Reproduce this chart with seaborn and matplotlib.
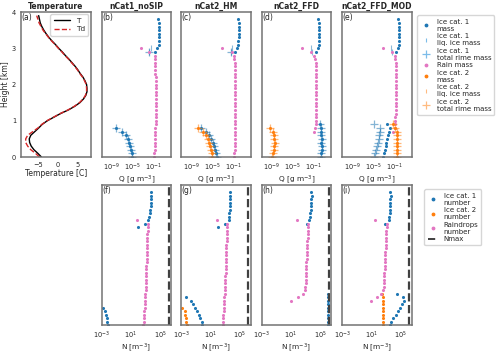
"""Vertical profiles of temperature, hydrometeor mass and number for four SIP set-ups."""

import matplotlib

matplotlib.use("Agg")

import matplotlib.pyplot as plt
import seaborn as sns
from matplotlib.lines import Line2D
from matplotlib.ticker import NullLocator

# ---------------------------------------------------------------- data
# temperature profile (panel a)
T_HEIGHT = [0.0, 0.1, 0.2, 0.3, 0.4, 0.5, 0.6, 0.7, 0.8, 0.9,
            1.0, 1.1, 1.2, 1.3, 1.4, 1.5, 1.6, 1.7, 1.8, 1.9,
            2.0, 2.1, 2.2, 2.3, 2.4, 2.5, 2.6, 2.7, 2.8, 2.9,
            3.0, 3.1, 3.2, 3.3, 3.4, 3.5, 3.6, 3.7, 3.8, 3.9]
TEMP = [-4.1, -5.0, -6.0, -6.7, -7.1, -7.2, -6.8, -5.8, -4.8, -3.9,
        -2.6, -0.9, 0.8, 2.8, 4.4, 5.7, 6.6, 7.2, 7.5, 7.5,
        7.4, 7.0, 6.5, 5.8, 5.2, 4.5, 3.7, 2.9, 2.0, 1.2,
        0.3, -0.5, -1.4, -2.2, -2.9, -3.5, -4.0, -4.4, -4.6, -4.8]
DEWPOINT = [-4.6, -5.6, -6.8, -7.6, -8.1, -8.1, -7.6, -6.3, -5.0, -4.0,
            -2.7, -1.0, 0.7, 2.7, 4.3, 5.6, 6.5, 7.1, 7.4, 7.4,
            7.3, 6.9, 6.4, 5.7, 5.1, 4.4, 3.6, 2.8, 1.9, 1.1,
            0.2, -0.6, -1.5, -2.3, -3.0, -3.7, -4.2, -4.7, -5.0, -5.3]

# height levels used by the model output
H_LOW6 = [0.0, 0.1, 0.2, 0.3, 0.4, 0.5]
H_LOW9 = [0.0, 0.1, 0.2, 0.3, 0.4, 0.5, 0.6, 0.7, 0.8]
H_LOW10 = [0.0, 0.1, 0.2, 0.3, 0.4, 0.5, 0.6, 0.7, 0.8, 0.9]
H_TOP10 = [2.9, 3.0, 3.1, 3.2, 3.3, 3.4, 3.5, 3.6, 3.7, 3.8]
H_TOP11 = [2.8, 2.9, 3.0, 3.1, 3.2, 3.3, 3.4, 3.5, 3.6, 3.7, 3.8]
H_LIQ = [2.9, 3.0]
H_RAIN = [0.0, 0.1, 0.2, 0.3, 0.4, 0.5, 0.6, 0.7, 0.8, 0.9,
          1.0, 1.1, 1.2, 1.3, 1.4, 1.5, 1.6, 1.7, 1.8, 1.9,
          2.0, 2.1, 2.2, 2.3, 2.4, 2.5, 2.6, 2.7, 2.8, 2.9, 3.0]
H_RAIN_FFD = [0.7, 0.8, 0.9, 1.0, 1.1, 1.2, 1.3, 1.4, 1.5, 1.6, 1.7, 1.8,
              1.9, 2.0, 2.1, 2.2, 2.3, 2.4, 2.5, 2.6, 2.7, 2.8, 2.9, 3.0]

# mass mixing ratios Q [g m-3]
NOSIP_ICE1_MASS = [7.9e-6, 6.3e-6, 4.5e-6, 3.2e-6, 2.0e-6, 1.3e-6, 4.0e-7, 1.0e-7, 6.3e-9,
                   0.15, 0.5, 1.0, 1.1, 1.15, 1.15, 1.1, 1.1, 0.95, 0.7]
NOSIP_ICE1_LIQ = [0.012, 0.03]
NOSIP_ICE1_RIME = [8.2e-6, 6.5e-6, 4.6e-6, 3.1e-6, 2.0e-6, 1.3e-6, 4.2e-7, 1.0e-7, 6.0e-9, 0.012]
NOSIP_RAIN_MASS = [0.12, 0.13, 0.15, 0.16, 0.17, 0.18, 0.19, 0.2, 0.21, 0.22,
                   0.22, 0.23, 0.24, 0.24, 0.25, 0.25, 0.25, 0.24, 0.24, 0.23,
                   0.23, 0.22, 0.22, 0.21, 0.2, 0.2, 0.19, 0.18, 0.16, 0.015, 4e-4]

HM_ICE1_MASS = [7.9e-5, 5.0e-5, 3.2e-5, 1.8e-5, 1.26e-5, 5.6e-6, 2.0e-6, 5.0e-7, 7.9e-8,
                0.2, 0.56, 0.9, 1.0, 1.05, 1.1, 1.1, 1.1, 1.05, 0.9]
HM_ICE1_LIQ = [0.03, 0.05]
HM_ICE1_RIME = [8.0e-5, 5.0e-5, 3.2e-5, 1.8e-5, 1.3e-5, 5.6e-6, 2.0e-6, 5.0e-7, 7.9e-8, 0.03]
HM_ICE2_MASS = [1.0e-5, 7.9e-6, 5.6e-6, 4.0e-6, 2.5e-6, 1.26e-6, 5.0e-7, 1.6e-7, 1.8e-8]
HM_ICE2_RIME = [1.0e-5, 7.9e-6, 5.6e-6, 4.0e-6, 2.5e-6, 1.3e-6, 5.0e-7, 1.6e-7, 1.8e-8]
HM_RAIN_MASS = [0.17, 0.17, 0.18, 0.18, 0.18, 0.19, 0.19, 0.19, 0.2, 0.2,
                0.2, 0.2, 0.2, 0.2, 0.2, 0.2, 0.2, 0.2, 0.2, 0.2,
                0.19, 0.19, 0.19, 0.19, 0.18, 0.18, 0.18, 0.17, 0.14, 0.05, 8e-4]

FFD_ICE1_MASS = [2.8, 3.0, 3.2, 3.2, 3.0, 3.2, 3.0, 3.0, 2.6, 1.4,
                 0.3, 0.55, 0.9, 1.1, 1.1, 1.1, 1.1, 1.1, 1.0, 0.55]
FFD_ICE1_LIQ = [0.04, 0.03]
FFD_ICE1_RIME = [2.8, 3.0, 3.2, 3.2, 3.0, 3.2, 3.0, 3.0, 2.6, 1.4]
FFD_ICE2_MASS = [1.1e-9, 1.6e-9, 2.0e-9, 2.8e-9, 4.0e-9, 2.8e-9, 2.0e-9, 1.6e-9, 5.0e-10]
FFD_ICE2_RIME = [1.1e-9, 1.6e-9, 2.0e-9, 2.8e-9, 4.0e-9, 2.8e-9, 2.0e-9, 1.6e-9, 5.0e-10]
FFD_RAIN_MASS = [0.1, 0.17, 0.22, 0.25, 0.26, 0.27, 0.27, 0.28, 0.28, 0.28, 0.28, 0.28,
                 0.28, 0.27, 0.27, 0.27, 0.26, 0.26, 0.25, 0.24, 0.2, 0.1, 0.03, 7e-4]

MOD_ICE1_MASS = [8.0e-4, 1.1e-3, 1.6e-3, 2.2e-3, 3.2e-3, 4.5e-3, 6.3e-3, 8.9e-3, 1.6e-2, 4.0e-3,
                 0.2, 0.55, 0.8, 0.85, 0.9, 0.9, 0.9, 0.85, 0.8, 0.55]
MOD_ICE1_LIQ = [0.04, 0.02]
MOD_ICE1_RIME = [1.6e-5, 2.5e-5, 3.2e-5, 5.0e-5, 6.3e-5, 1.0e-4, 1.26e-4, 1.8e-4, 2.0e-4, 1.6e-5]
MOD_ICE2_MASS = [0.35, 0.35, 0.36, 0.35, 0.34, 0.35, 0.32, 0.28, 0.13, 0.05]
MOD_ICE2_RIME = [0.35, 0.35, 0.36, 0.35, 0.34, 0.35, 0.32, 0.28, 0.13, 0.05]
MOD_RAIN_MASS = [0.06, 0.12, 0.15, 0.17, 0.17, 0.18, 0.18, 0.18, 0.19, 0.19, 0.19, 0.19,
                 0.19, 0.19, 0.19, 0.18, 0.18, 0.18, 0.18, 0.18, 0.17, 0.15, 0.045, 7e-4]

# number concentrations N [m-3]
NOSIP_ICE1_NUM = [8e-3, 6.3e-3, 5e-3, 4.5e-3, 2.8e-3, 1.6e-3,
                  100, 800, 2500, 3200, 4000, 4500, 5000, 5600, 5600, 6300, 5000]
NOSIP_RAIN_NUM = [500, 560, 600, 630, 700, 750, 800, 850, 900, 950,
                  1000, 1050, 1100, 1150, 1200, 1250, 1300, 1350, 1400, 1450,
                  1500, 1550, 1600, 1700, 1750, 1800, 1850, 1900, 2000, 2200, 80]

HM_ICE1_NUM = [0.8, 0.63, 0.45, 0.32, 0.16, 0.08, 0.05, 0.02, 5e-3,
               100, 900, 3200, 3500, 4000, 4500, 4500, 5000, 5000, 5600, 5000]
HM_ICE2_NUM = [6.3e-3, 5.6e-3, 5e-3, 4e-3, 3.5e-3, 1.6e-3]
HM_RAIN_NUM = [500, 530, 570, 600, 650, 700, 750, 800, 850, 900,
               950, 1000, 1050, 1100, 1150, 1200, 1250, 1300, 1350, 1400,
               1450, 1500, 1550, 1600, 1650, 1700, 1750, 1800, 1800, 2000, 80]

FFD_ICE1_NUM = [1.3e6, 1.3e6, 1.3e6, 1.3e6, 1.3e6, 1.3e6, 1.3e6, 1.3e6, 1.3e6, 1.3e6,
                1400, 3200, 4000, 4500, 5000, 5000, 5600, 6300, 7000, 5600]
FFD_RAIN_NUM = [12, 100, 400, 900, 950, 1000, 1050, 1100, 1150, 1200, 1250, 1300,
                1400, 1450, 1500, 1600, 1700, 1800, 1900, 2000, 2200, 2400, 2500, 80]

MOD_ICE1_NUM = [3200, 5000, 9000, 2.0e4, 4.0e4, 8.0e4, 1.6e5, 2.8e5, 2.2e5, 3.2e4,
                800, 2500, 2800, 3200, 3500, 3500, 4000, 4000, 4500, 4000]
MOD_ICE2_NUM = [450, 450, 450, 450, 450, 450, 450, 450, 450, 320]
MOD_RAIN_NUM = [10, 56, 220, 450, 480, 500, 530, 560, 600, 630, 670, 700,
                750, 800, 850, 900, 950, 1000, 1050, 1100, 1150, 1200, 1250, 35]

NMAX = 1.5e6

TITLES = ["Temperature", "nCat1_noSIP", "nCat2_HM", "nCat2_FFD", "nCat2_FFD_MOD"]
TOP_LABELS = ["(a)", "(b)", "(c)", "(d)", "(e)"]
BOTTOM_LABELS = ["(f)", "(g)", "(h)", "(i)"]

Q_TICKS = [1e-9, 1e-5, 1e-1]
N_TICKS = [1e-3, 1e1, 1e5]

BLUE = "#1f77b4"
ORANGE = "#ff7f0e"
PINK = "#e377c2"
SPINE = "0.45"

MASS_LEGEND = [
    "Ice cat. 1\nmass", "Ice cat. 1\nliq. ice mass", "Ice cat. 1\ntotal rime mass",
    "Rain mass", "Ice cat. 2\nmass", "Ice cat. 2\nliq. ice mass", "Ice cat. 2\ntotal rime mass",
]
NUMBER_LEGEND = ["Ice cat. 1\nnumber", "Ice cat. 2\nnumber", "Raindrops\nnumber", "Nmax"]


# ---------------------------------------------------------------- styles
DOT = dict(marker="o", s=5, linewidth=0)
LIQ = dict(marker="|", s=14, linewidth=0.8, alpha=0.5)
RIME = dict(marker="+", s=32, linewidth=0.9, alpha=0.55)


def px_axes(fig, left, top, width, height):
    """Add axes from pixel coordinates of a 500x354 canvas."""
    return fig.add_axes([left / 500, 1 - (top + height) / 354, width / 500, height / 354])


def style_axes(ax, label):
    for spine in ax.spines.values():
        spine.set_color(SPINE)
        spine.set_linewidth(1.1)
    ax.tick_params(labelsize=4.8, length=2.5, width=0.7, color=SPINE, pad=1)
    ax.set_ylim(0, 4)
    ax.text(0.01, 0.99, label, transform=ax.transAxes, ha="left", va="top", fontsize=5.5)


def profile_axes(ax, ticks, xlim, xlabel, label):
    ax.set_xscale("log")
    ax.set_xlim(*xlim)
    ax.set_xticks(ticks)
    ax.xaxis.set_minor_locator(NullLocator())
    ax.set_yticks([0, 0.5, 1, 1.5, 2, 2.5, 3, 3.5, 4])
    ax.set_yticklabels([])
    ax.set_xlabel(xlabel, fontsize=5.3, labelpad=0)
    ax.set_ylabel("")
    style_axes(ax, label)


def scatter(ax, x, y, color, style):
    sns.scatterplot(x=x, y=y, ax=ax, color=color, legend=False, **style)


sns.set_style("white")
plt.rcParams["font.family"] = ["DejaVu Sans"]

fig = plt.figure(figsize=(5.0, 3.54), dpi=100)
lefts = [21, 101.5, 181, 261.5, 342]
width = 69.5

# ---------------------------------------------------------------- temperature
ax_t = px_axes(fig, lefts[0], 12, width, 145)
sns.lineplot(x=TEMP, y=T_HEIGHT, ax=ax_t, sort=False, estimator=None, color="k", lw=1.0, label="T")
sns.lineplot(x=DEWPOINT, y=T_HEIGHT, ax=ax_t, sort=False, estimator=None, color="tab:red",
             lw=1.0, ls="--", label="Td")
ax_t.set_xlim(-9.3, 8.4)
ax_t.set_xticks([-5, 0, 5])
ax_t.set_yticks([0, 1, 2, 3, 4])
ax_t.set_xlabel("Temperature [C]", fontsize=5.5, labelpad=0.5)
ax_t.set_ylabel("Height [km]", fontsize=5.5, labelpad=1.5)
ax_t.set_title(TITLES[0], fontsize=5.5, fontweight="bold", pad=2)
style_axes(ax_t, TOP_LABELS[0])
ax_t.legend(loc="upper right", fontsize=5.3, handlelength=2.2, borderpad=0.45,
            labelspacing=0.35, borderaxespad=0.3)

# ---------------------------------------------------------------- mass panels
mass_panels = [
    [(NOSIP_ICE1_MASS, H_LOW9 + H_TOP10, BLUE, DOT),
     (NOSIP_ICE1_LIQ, H_LIQ, BLUE, LIQ),
     (NOSIP_ICE1_RIME, H_LOW9 + [2.9], BLUE, RIME),
     (NOSIP_RAIN_MASS, H_RAIN, PINK, DOT)],
    [(HM_ICE1_MASS, H_LOW9 + H_TOP10, BLUE, DOT),
     (HM_ICE1_LIQ, H_LIQ, BLUE, LIQ),
     (HM_ICE1_RIME, H_LOW9 + [2.9], BLUE, RIME),
     (HM_RAIN_MASS, H_RAIN, PINK, DOT),
     (HM_ICE2_MASS, H_LOW9, ORANGE, DOT),
     (HM_ICE2_RIME, H_LOW9, ORANGE, RIME)],
    [(FFD_ICE1_MASS, H_LOW10 + H_TOP10, BLUE, DOT),
     (FFD_ICE1_LIQ, H_LIQ, BLUE, LIQ),
     (FFD_ICE1_RIME, H_LOW10, BLUE, RIME),
     (FFD_RAIN_MASS, H_RAIN_FFD, PINK, DOT),
     (FFD_ICE2_MASS, H_LOW9, ORANGE, DOT),
     (FFD_ICE2_RIME, H_LOW9, ORANGE, RIME)],
    [(MOD_ICE1_MASS, H_LOW10 + H_TOP10, BLUE, DOT),
     (MOD_ICE1_LIQ, H_LIQ, BLUE, LIQ),
     (MOD_ICE1_RIME, H_LOW10, BLUE, RIME),
     (MOD_RAIN_MASS, H_RAIN_FFD, PINK, DOT),
     (MOD_ICE2_MASS, H_LOW10, ORANGE, DOT),
     (MOD_ICE2_RIME, H_LOW10, ORANGE, RIME)],
]

for i, series in enumerate(mass_panels):
    ax = px_axes(fig, lefts[i + 1], 12, width, 145)
    for values, heights, color, style in series:
        scatter(ax, values, heights, color, style)
    profile_axes(ax, Q_TICKS, (1e-11, 2e2), "Q [g m$^{-3}$]", TOP_LABELS[i + 1])
    ax.set_title(TITLES[i + 1], fontsize=5.5, fontweight="bold", pad=2)

# ---------------------------------------------------------------- number panels
number_panels = [
    [(NOSIP_ICE1_NUM, H_LOW6 + H_TOP11, BLUE),
     (NOSIP_RAIN_NUM, H_RAIN, PINK)],
    [(HM_ICE1_NUM, H_LOW9 + H_TOP11, BLUE),
     (HM_ICE2_NUM, H_LOW6, ORANGE),
     (HM_RAIN_NUM, H_RAIN, PINK)],
    [(FFD_ICE1_NUM, H_LOW10 + H_TOP10, BLUE),
     (FFD_RAIN_NUM, H_RAIN_FFD, PINK)],
    [(MOD_ICE1_NUM, H_LOW10 + H_TOP10, BLUE),
     (MOD_ICE2_NUM, H_LOW10, ORANGE),
     (MOD_RAIN_NUM, H_RAIN_FFD, PINK)],
]

for i, series in enumerate(number_panels):
    ax = px_axes(fig, lefts[i + 1], 185, width, 140)
    for values, heights, color in series:
        scatter(ax, values, heights, color, DOT)
    ax.axvline(NMAX, color="0.25", lw=1.6, ls="--")
    profile_axes(ax, N_TICKS, (1e-3, 3e6), "N [m$^{-3}$]", BOTTOM_LABELS[i])

# ---------------------------------------------------------------- legends
light_blue = sns.set_hls_values(BLUE, l=0.7)
light_orange = sns.set_hls_values(ORANGE, l=0.75)
mass_handles = [
    Line2D([], [], ls="none", marker=".", ms=3.5, color=BLUE),
    Line2D([], [], ls="none", marker="|", ms=3, mew=0.8, color=light_blue),
    Line2D([], [], ls="none", marker="+", ms=6, mew=0.9, color=light_blue),
    Line2D([], [], ls="none", marker=".", ms=3.5, color=PINK),
    Line2D([], [], ls="none", marker=".", ms=3.5, color=ORANGE),
    Line2D([], [], ls="none", marker="|", ms=3, mew=0.8, color=light_orange),
    Line2D([], [], ls="none", marker="+", ms=6, mew=0.9, color=light_orange),
]
fig.legend(mass_handles, MASS_LEGEND, loc="upper left", bbox_to_anchor=(414 / 500, 1 - 12 / 354),
           fontsize=5, handlelength=1.5, labelspacing=0.22, borderpad=0.45, frameon=True)

number_handles = [
    Line2D([], [], ls="none", marker=".", ms=3.5, color=BLUE),
    Line2D([], [], ls="none", marker=".", ms=3.5, color=ORANGE),
    Line2D([], [], ls="none", marker=".", ms=3.5, color=PINK),
    Line2D([], [], ls="--", lw=1.4, color="0.25"),
]
fig.legend(number_handles, NUMBER_LEGEND, loc="upper left", bbox_to_anchor=(421 / 500, 1 - 186 / 354),
           fontsize=5, handlelength=1.5, labelspacing=0.22, borderpad=0.45, frameon=True)

fig.savefig("out.png", dpi=100)
